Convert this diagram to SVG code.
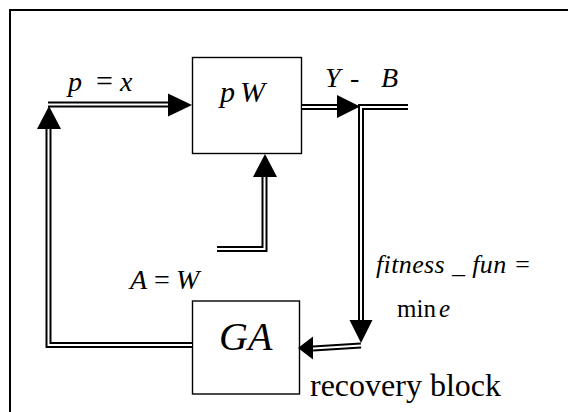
<svg xmlns="http://www.w3.org/2000/svg" width="568" height="412" viewBox="0 0 568 412">
<style>
.box{fill:#fff;stroke:#000;stroke-width:1.4}
.outer{fill:none;stroke:#000;stroke-width:6;stroke-linejoin:miter}
.inner{fill:none;stroke:#fff;stroke-width:2;stroke-linejoin:miter}
.head{fill:#000}
text{font-family:"Liberation Serif",serif;fill:#000}
.it{font-style:italic}
</style>
<rect x="10" y="10" width="580" height="420" fill="none" stroke="#000" stroke-width="2"/>
<g id="node-pW">
<rect class="box" x="192.5" y="57.5" width="109" height="96"/>
<text class="it" x="220" y="102" font-size="30">p</text>
<text class="it" x="240" y="102" font-size="30">W</text>
</g>
<g id="node-GA">
<rect class="box" x="192.5" y="301" width="107" height="93"/>
<text class="it" x="219" y="350" font-size="40">GA</text>
</g>
<g id="connectors">
<g id="c-input">
<path class="outer" d="M48 104.5H170"/>
<path class="inner" d="M48 104.5H170"/>
<polygon class="head" points="192,105 168,93.5 168,116.5"/>
</g>
<g id="c-feedback">
<path class="outer" d="M48.5 129V345H192"/>
<path class="inner" d="M48.5 129V345H192"/>
<polygon class="head" points="49,106 37,129 61,129"/>
</g>
<g id="c-A">
<path class="outer" d="M217 249H264.5V177"/>
<path class="inner" d="M217 249H264.5V177"/>
<polygon class="head" points="265,154 253,177 277,177"/>
</g>
<g id="c-output">
<path class="outer" d="M302 107H338"/>
<path class="inner" d="M302 107H338"/>
<polygon class="head" points="360,106.5 337,95 337,118"/>
</g>
<g id="c-branch">
<path class="outer" d="M408 107H361V322"/>
<path class="inner" d="M408 107H361V322"/>
<polygon class="head" points="361,343 349.5,320 372.5,320"/>
</g>
<g id="c-fitness">
<path class="outer" d="M361 345.5L313 348.5"/>
<path class="inner" d="M361 345.5L313 348.5"/>
<polygon class="head" points="298,348 313,336.5 313,359.5"/>
</g>
</g>
<g id="labels">
<text class="it" x="68" y="91" font-size="28">p</text>
<text x="96" y="91" font-size="30">=</text>
<text class="it" x="120" y="91" font-size="28">x</text>
<text class="it" x="325" y="87" font-size="28">Y</text>
<text x="350" y="87" font-size="28">-</text>
<text class="it" x="381" y="87" font-size="28">B</text>
<text class="it" x="130" y="289" font-size="28">A</text>
<text x="154" y="289" font-size="28">=</text>
<text class="it" x="176" y="289" font-size="28">W</text>
<text class="it" x="376" y="273" font-size="26" textLength="155" lengthAdjust="spacing">fitness _ fun =</text>
<text x="397" y="317" font-size="25">min</text>
<text class="it" x="439" y="317" font-size="25">e</text>
<text x="310" y="396" font-size="32">recovery block</text>
</g>
</svg>
